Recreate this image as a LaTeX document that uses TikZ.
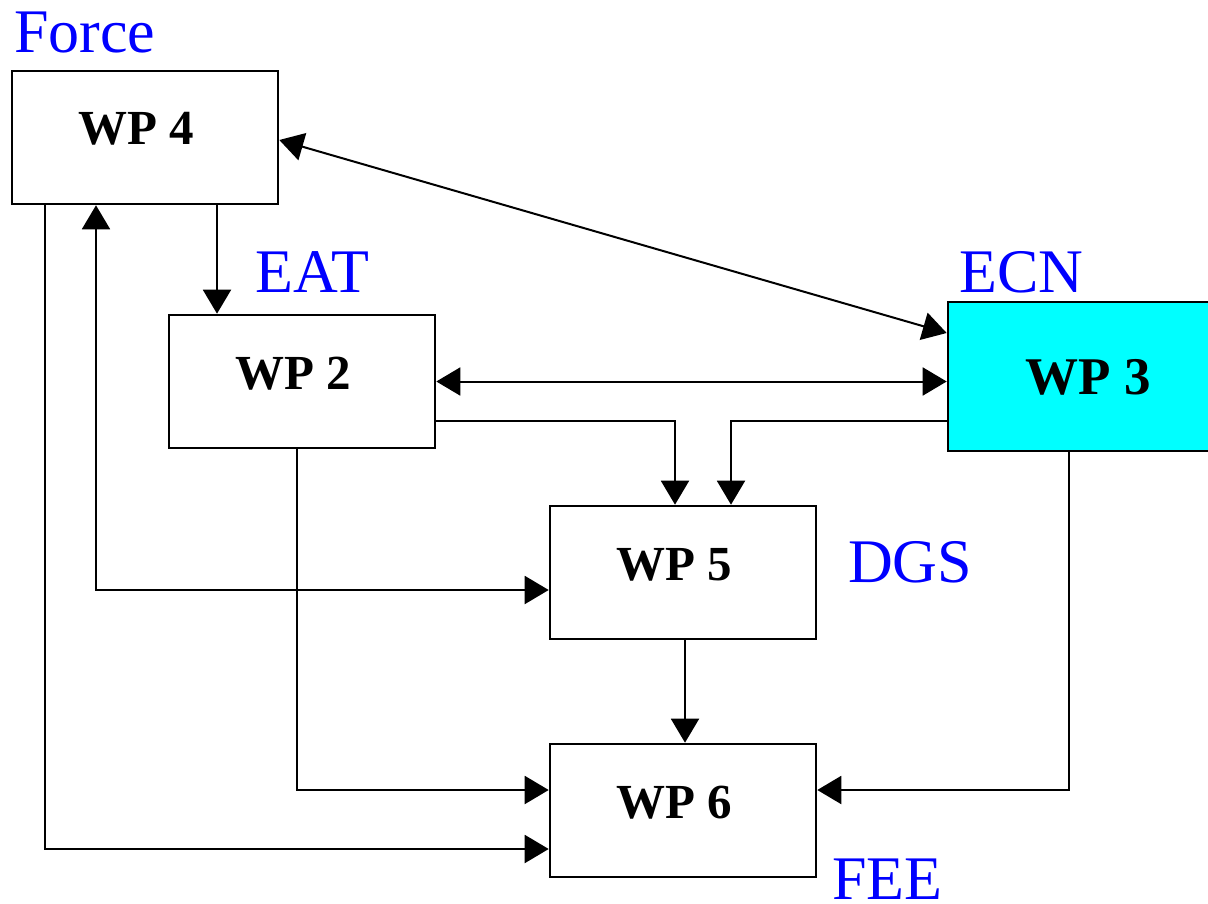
\documentclass[tikz,border=0pt]{standalone}
\usepackage{fontspec}
\setmainfont{Liberation Serif}
\usetikzlibrary{arrows.meta}
\definecolor{lblblue}{RGB}{0,0,255}
\definecolor{boxcyan}{RGB}{0,255,255}
\begin{document}
\begin{tikzpicture}[x=1pt,y=-1pt,
  wpbox/.style={draw=black, line width=2.6pt, rectangle, minimum width=266pt, minimum height=133pt,
    inner sep=0pt, font=\fontsize{49}{56}\selectfont\bfseries, text height=33pt, text depth=18pt},
  lbl/.style={text=lblblue, font=\fontsize{62}{70}\selectfont, anchor=base west, inner sep=0pt},
  conn/.style={line width=2pt, -{Triangle[length=24pt,width=28pt]}},
  dconn/.style={line width=2pt, {Triangle[length=24pt,width=28pt]}-{Triangle[length=24pt,width=28pt]}}
]
\useasboundingbox (0,0) rectangle (1208,904);
\fill[white] (0,0) rectangle (1208,904);

\node[wpbox] (wp4) at (145,137.5) {WP 4\hspace*{18pt}};
\node[wpbox] (wp2) at (302,381.5) {WP 2\hspace*{18pt}};
\node[wpbox, fill=boxcyan, minimum width=280pt, minimum height=149pt, text depth=0pt,
  font=\fontsize{53}{60}\selectfont\bfseries, text height=36pt] (wp3) at (1088,376.5) {WP 3};
\node[wpbox] (wp5) at (683,572.5) {WP 5\hspace*{18pt}};
\node[wpbox] (wp6) at (683,810.5) {WP 6\hspace*{18pt}};

\node[lbl] (force) at (14,53) {Force};
\node[lbl] (eat) at (255,293) {EAT};
\node[lbl] (ecn) at (959,293) {ECN};
\node[lbl] (dgs) at (848,582) {DGS};
\node[lbl] (fee) at (832,899) {FEE};

% WP4 <-> WP3
\draw[dconn] ([yshift=-2.5pt]wp4.east) -- ([yshift=43.5pt]wp3.west);
% WP4 -> WP2
\coordinate (a42) at ([xshift=72pt]wp4.south);
\draw[conn] (a42) -- (a42 |- wp2.north);
% WP2 <-> WP3
\draw[dconn] (wp2.east) -- (wp2.east -| wp3.west);
% WP2 -> WP5
\draw[conn] ([yshift=-39.5pt]wp2.east) -| ([xshift=-8pt]wp5.north);
% WP3 -> WP5
\draw[conn] ([yshift=-44.5pt]wp3.west) -| ([xshift=48pt]wp5.north);
% WP4 <-> WP5
\draw[dconn] ([xshift=-49pt]wp4.south) |- ([yshift=-17.5pt]wp5.west);
% WP2 -> WP6
\draw[conn] ([xshift=-5pt]wp2.south) |- ([yshift=20.5pt]wp6.west);
% WP4 -> WP6
\draw[conn] ([xshift=-100pt]wp4.south) |- ([yshift=-38.5pt]wp6.west);
% WP5 -> WP6
\coordinate (a56) at ([xshift=2pt]wp5.south);
\draw[conn] (a56) -- (a56 |- wp6.north);
% WP3 -> WP6
\draw[conn] ([xshift=-19pt]wp3.south) |- ([yshift=20.5pt]wp6.east);
\end{tikzpicture}
\end{document}
